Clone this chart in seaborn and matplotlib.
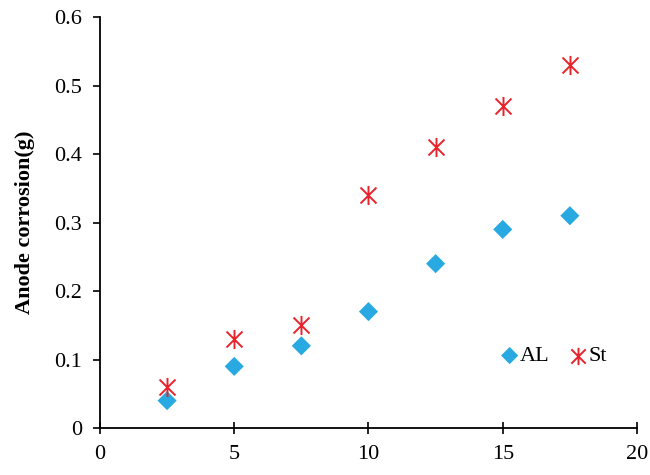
import numpy as np
import pandas as pd
import seaborn as sns
import matplotlib
matplotlib.use("Agg")
import matplotlib.pyplot as plt
from matplotlib.path import Path

x_vals = [2.5, 5, 7.5, 10, 12.5, 15, 17.5]
al_vals = [0.04, 0.09, 0.12, 0.17, 0.24, 0.29, 0.31]
st_vals = [0.06, 0.13, 0.15, 0.34, 0.41, 0.47, 0.53]
series_names = ["AL", "St"]
x_ticks = [0, 5, 10, 15, 20]
y_ticks = [0, 0.1, 0.2, 0.3, 0.4, 0.5, 0.6]
y_label = "Anode corrosion(g)"

sns.set_theme(style="white")
plt.rcParams['font.family'] = ['Liberation Serif', 'DejaVu Serif']
plt.rcParams['text.color'] = 'black'
plt.rcParams['axes.labelcolor'] = 'black'
plt.rcParams['xtick.color'] = 'black'
plt.rcParams['ytick.color'] = 'black'

df = pd.DataFrame({
    "x": x_vals * 2,
    "y": al_vals + st_vals,
    "series": [series_names[0]] * len(x_vals) + [series_names[1]] * len(x_vals),
})

star = Path([(-1, -1), (1, 1), (-1, 1), (1, -1), (0, -1.2), (0, 1.2)],
            [Path.MOVETO, Path.LINETO, Path.MOVETO, Path.LINETO, Path.MOVETO, Path.LINETO])

fig = plt.figure(figsize=(6.5, 4.75), dpi=100)
ax = fig.add_axes([0.1538, 0.0989, 0.8262, 0.8651])

sns.scatterplot(data=df[df.series == "AL"], x="x", y="y", ax=ax, marker="D",
                color="#29A9E1", s=95, edgecolor="none", label="AL")
sns.scatterplot(data=df[df.series == "St"], x="x", y="y", ax=ax, marker=star,
                color="#E8232B", edgecolor="#E8232B", s=190, linewidth=1.4, label="St")

ax.set_xlim(0, 20)
ax.set_ylim(0, 0.6)
ax.set_xticks(x_ticks)
ax.set_yticks(y_ticks)
ax.set_xticklabels([str(t) for t in x_ticks])
ax.set_yticklabels(["0"] + [f"{t:.1f}" for t in y_ticks[1:]])
ax.set_xlabel("")
ax.set_ylabel(y_label, fontsize=16, fontweight="bold", labelpad=14, color="black")

for s in ["top", "right"]:
    ax.spines[s].set_visible(False)
for s in ["left", "bottom"]:
    ax.spines[s].set_color("black")
    ax.spines[s].set_linewidth(1.3)

ax.tick_params(axis="y", direction="out", length=5, width=1.2, labelsize=16,
               left=True, color="black", labelcolor="black", pad=8)
ax.tick_params(axis="x", direction="inout", length=9, width=1.2, labelsize=16,
               bottom=True, color="black", labelcolor="black", pad=8)

leg = ax.legend(loc="center", bbox_to_anchor=(0.848, 0.175), ncol=2, frameon=False,
                fontsize=16, handlelength=0.5, handletextpad=0.2, columnspacing=1.05,
                markerscale=0.9)
for t in leg.get_texts():
    t.set_color("black")

fig.savefig("out.png", dpi=100)
